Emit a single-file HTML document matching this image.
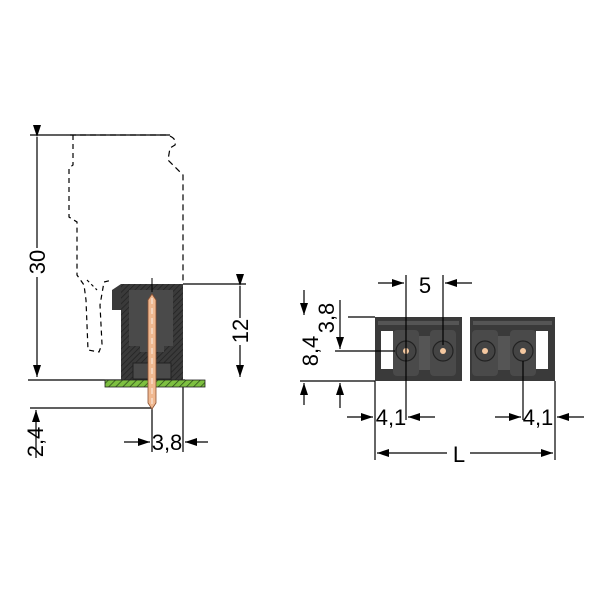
<!DOCTYPE html>
<html><head><style>body{margin:0;background:#fff}svg{display:block}</style></head><body>
<svg width="600" height="600" viewBox="0 0 600 600" xmlns="http://www.w3.org/2000/svg" font-family="Liberation Sans, sans-serif">
<defs>
<marker id="a" markerWidth="12" markerHeight="8" refX="12" refY="4" orient="auto" markerUnits="userSpaceOnUse"><path d="M0,0 L12,4 L0,8 Z" fill="#000"/></marker>
<pattern id="h" width="4" height="4" patternUnits="userSpaceOnUse" patternTransform="rotate(45)"><rect width="4" height="4" fill="#3a3a3a"/><line x1="0" y1="0" x2="0" y2="4" stroke="#222" stroke-width="1.5"/></pattern>
<pattern id="g" width="5" height="5" patternUnits="userSpaceOnUse" patternTransform="rotate(45)"><rect width="5" height="5" fill="#7dc040"/><line x1="0" y1="0" x2="0" y2="5" stroke="#2a4a1a" stroke-width="1.5"/></pattern>
</defs>
<g stroke="#000" stroke-width="1.2" fill="none">
<path d="M70,135 L167,135 Q177,138 175,145 L170,148 L168,160 L183,175 L183,284" stroke-dasharray="6,4"/>
<path d="M73,135 L73,165 L69,168 L69,217 L77,222 L77,275 L84,285 L86,300 L88,350 L99,352 L102,344 L100,305 L104,282 L112,280" stroke-dasharray="5,4"/>
<path d="M87,280 L97,290" stroke-dasharray="3,3"/>
<path d="M30,135 L170,135"/>
<path d="M37,137 L37,248" marker-start="url(#a)"/>
<path d="M37,277 L37,377" marker-end="url(#a)"/>
<path d="M28,380 L185,380"/>
<path d="M183,284 L246,284"/>
<path d="M240,286 L240,318" marker-start="url(#a)"/>
<path d="M240,345 L240,377" marker-end="url(#a)"/>
<path d="M30,408 L152,408"/>
<path d="M36,458 L36,410" marker-end="url(#a)"/>
<path d="M152,406 L152,452"/><path d="M183,387 L183,452"/>
<path d="M124,442 L150,442" marker-end="url(#a)"/>
<path d="M208,442 L185,442" marker-end="url(#a)"/>
</g>
<rect x="121" y="284" width="62" height="96" fill="url(#h)"/>
<path d="M112,290 L121,284 L121,310 L112,310 Z" fill="#3a3a3a"/>
<path d="M129,290 L173,290 L173,346 L164,346 L164,352 L140,352 L140,346 L129,346 Z" fill="#4a4a4a"/>
<rect x="133" y="363" width="38" height="16" fill="#4a4a4a" stroke="#222"/>
<rect x="105" y="380" width="100" height="7" fill="url(#g)" stroke="#222" stroke-width="0.8"/>
<line x1="152" y1="278" x2="152" y2="292" stroke="#000"/>
<path d="M148,300 L152,294 L156,300 L156,403 L152,409 L148,403 Z" fill="#f0b890" stroke="#8a5030" stroke-width="0.8"/>
<line x1="152" y1="298" x2="152" y2="405" stroke="#fff" stroke-width="0.8" stroke-dasharray="6,4"/>
<g font-size="22">
<text transform="translate(45,262) rotate(-90)" text-anchor="middle">30</text>
<text transform="translate(248,331) rotate(-90)" text-anchor="middle">12</text>
<text transform="translate(43,442) rotate(-90)" text-anchor="middle">2,4</text>
<text x="167" y="450" text-anchor="middle">3,8</text>
</g>
<rect x="375" y="317" width="87" height="64" fill="#3a3a3a"/>
<rect x="470" y="317" width="85" height="64" fill="#3a3a3a"/>
<rect x="378" y="321" width="81" height="4" fill="#555"/><rect x="473" y="321" width="79" height="4" fill="#555"/>
<rect x="381" y="331" width="12" height="38" fill="#fff"/>
<rect x="536" y="331" width="12" height="38" fill="#fff"/>
<g fill="#4a4a4a"><rect x="393" y="330" width="26" height="46" rx="4"/><rect x="430" y="330" width="26" height="46" rx="4"/><rect x="472" y="330" width="26" height="46" rx="4"/><rect x="510" y="330" width="26" height="46" rx="4"/><rect x="419" y="336" width="11" height="34" fill="#555"/><rect x="498" y="336" width="12" height="34" fill="#555"/></g>
<g stroke="#222" stroke-width="1.2" fill="#444">
<circle cx="406" cy="351" r="10"/><circle cx="443" cy="351" r="10"/><circle cx="485" cy="351" r="10"/><circle cx="523" cy="351" r="10"/></g>
<g fill="#f5c8a0"><circle cx="406" cy="351" r="3"/><circle cx="443" cy="351" r="3"/><circle cx="485" cy="351" r="3"/><circle cx="523" cy="351" r="3"/></g>
<g stroke="#000" stroke-width="1.2" fill="none">
<path d="M406,275 L406,420"/><path d="M443,275 L443,345"/>
<path d="M378,283 L404,283" marker-end="url(#a)"/><path d="M472,283 L445,283" marker-end="url(#a)"/>
<path d="M348,317 L375,317"/><path d="M335,351 L395,351"/><path d="M300,381 L375,381"/>
<path d="M304,290 L304,315" marker-end="url(#a)"/><path d="M304,405 L304,383" marker-end="url(#a)"/>
<path d="M340,300 L340,349" marker-end="url(#a)"/><path d="M340,408 L340,383" marker-end="url(#a)"/>
<path d="M375,381 L375,460"/><path d="M555,381 L555,460"/><path d="M523,361 L523,420"/>
<path d="M347,417 L373,417" marker-end="url(#a)"/><path d="M435,417 L408,417" marker-end="url(#a)"/>
<path d="M495,417 L521,417" marker-end="url(#a)"/><path d="M584,417 L557,417" marker-end="url(#a)"/>
<path d="M447,453 L377,453" marker-end="url(#a)"/><path d="M470,453 L553,453" marker-end="url(#a)"/>
</g>
<g font-size="22">
<text x="425" y="293" text-anchor="middle">5</text>
<text transform="translate(318,351) rotate(-90)" text-anchor="middle">8,4</text>
<text transform="translate(334,318) rotate(-90)" text-anchor="middle">3,8</text>
<text x="391" y="425" text-anchor="middle">4,1</text>
<text x="538" y="425" text-anchor="middle">4,1</text>
<text x="459" y="462" text-anchor="middle">L</text>
</g>
</svg>
</body></html>
